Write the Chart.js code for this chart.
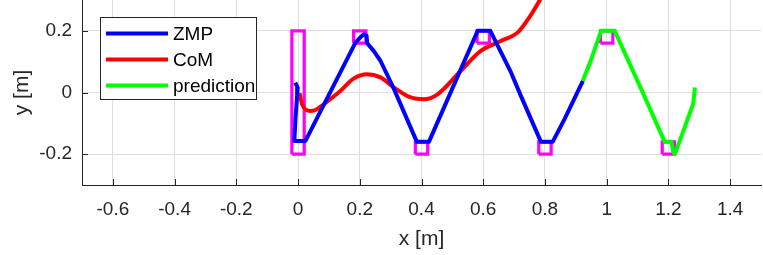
<!DOCTYPE html>
<html><head><meta charset="utf-8">
<script src="https://cdn.jsdelivr.net/npm/chart.js@4"></script>
<style>html,body{margin:0;padding:0;background:#fff}#wrap{width:763px;height:255px;position:relative}canvas{display:block}</style>
</head><body><div id="wrap"><canvas id="c" width="763" height="255" style="width:763px;height:255px"></canvas></div>
<script>
const xTicks = [-0.6,-0.4,-0.2,0,0.2,0.4,0.6,0.8,1,1.2,1.4];
const yTicks = [-0.2,0,0.2];

const zmpX = [-0.009,-0.001,-0.003,-0.008,-0.012,0.024,0.186,0.205,0.213,0.222,0.224,0.245,0.267,0.311,0.385,0.424,0.582,0.623,0.69,0.722,0.787,0.825,0.863,0.923];
const zmpY = [0.032,0.016,-0.011,-0.08,-0.157,-0.157,0.162,0.182,0.189,0.184,0.16,0.135,0.103,0.011,-0.16,-0.16,0.2,0.2,0.065,-0.011,-0.16,-0.16,-0.087,0.038];

const comX = [0.005,0.013,0.025,0.04,0.06,0.083,0.137,0.18,0.224,0.267,0.311,0.365,0.408,0.452,0.527,0.592,0.657,0.712,0.749,0.782,0.795];
const comY = [-0.002,-0.038,-0.055,-0.06,-0.055,-0.038,0.005,0.045,0.059,0.049,0.016,-0.016,-0.022,-0.006,0.07,0.135,0.167,0.195,0.243,0.297,0.32];

const predX = [0.923,0.95,0.982,1.026,1.112,1.188,1.21,1.215,1.221,1.28,1.286];
const predY = [0.038,0.108,0.2,0.2,0.011,-0.16,-0.16,-0.19,-0.2,-0.038,0.016];

const footXMin = [-0.02,0.18,0.38,0.58,0.78,0.98,1.18];
const footXMax = [0.02,0.22,0.42,0.62,0.82,1.02,1.22];
const footYMin = [-0.2,0.16,-0.2,0.16,-0.2,0.16,-0.2];
const footYMax = [0.2,0.2,-0.16,0.2,-0.16,0.2,-0.16];

const pts = (xs, ys) => xs.map((x, i) => ({x, y: ys[i]}));
const footPts = [];
footXMin.forEach((x0, i) => {
  const x1 = footXMax[i], y0 = footYMin[i], y1 = footYMax[i];
  footPts.push({x:x0,y:y0},{x:x1,y:y0},{x:x1,y:y1},{x:x0,y:y1},{x:x0,y:y0},{x:x0,y:null});
});

const FONT = '"Liberation Sans", Arial, Helvetica, sans-serif';
const AX = '#262626';

const inwardTicks = {
  id: 'inwardTicks',
  beforeDatasetsDraw(chart) {
    const {ctx, chartArea: a, scales: {x, y}} = chart;
    ctx.save();
    ctx.strokeStyle = AX; ctx.lineWidth = 1;
    ctx.beginPath();
    xTicks.forEach(v => { const p = Math.round(x.getPixelForValue(v)) + 0.5; ctx.moveTo(p, a.bottom); ctx.lineTo(p, a.bottom - 6); });
    yTicks.forEach(v => { const p = Math.round(y.getPixelForValue(v)) + 0.5; ctx.moveTo(a.left, p); ctx.lineTo(a.left + 6, p); });
    ctx.stroke();
    ctx.restore();
  }
};

const legendBox = {
  id: 'legendBox',
  afterDraw(chart) {
    const ctx = chart.ctx;
    const items = chart.data.datasets.filter(d => d.inLegend);
    ctx.save();
    ctx.fillStyle = '#fff';
    ctx.fillRect(100, 17, 157, 83);
    ctx.strokeStyle = AX; ctx.lineWidth = 1;
    ctx.strokeRect(100.5, 17.5, 156, 82);
    ctx.font = '19px ' + FONT;
    ctx.textBaseline = 'middle';
    ctx.fillStyle = '#000';
    items.forEach((d, i) => {
      const yy = 33.5 + i * 26;
      ctx.strokeStyle = d.borderColor; ctx.lineWidth = 4;
      ctx.beginPath(); ctx.moveTo(106, yy); ctx.lineTo(168, yy); ctx.stroke();
      ctx.fillText(d.label, 173, yy + 1);
    });
    ctx.restore();
  }
};

new Chart(document.getElementById('c'), {
  type: 'scatter',
  data: {
    datasets: [
      {label:'ZMP', inLegend:true, data: pts(zmpX, zmpY), borderColor:'#0000ff', order:1},
      {label:'CoM', inLegend:true, data: pts(comX, comY), borderColor:'#ff0000', order:2, cubicInterpolationMode:'monotone'},
      {label:'prediction', inLegend:true, data: pts(predX, predY), borderColor:'#00ff00', order:0},
      {label:'foot', inLegend:false, data: footPts, borderColor:'#ff00ff', order:3, borderWidth:3.2, spanGaps:false, borderJoinStyle:'miter'}
    ]
  },
  options: {
    responsive: false,
    animation: false,
    devicePixelRatio: 1,
    layout: {padding: {left: 0, right: 2, top: 0, bottom: 0}},
    datasets: {scatter: {showLine: true, pointRadius: 0, borderWidth: 4, borderJoinStyle: 'round', fill: false}},
    plugins: {legend: {display: false}, tooltip: {enabled: false}},
    scales: {
      x: {
        type: 'linear', min: -0.7, max: 1.5,
        afterBuildTicks: s => { s.ticks = xTicks.map(v => ({value: v})); },
        afterFit: s => { s.height = 70; s.paddingLeft = 0; s.paddingRight = 0; },
        grid: {color: '#dedede', drawTicks: false},
        border: {display: true, color: AX, width: 1},
        ticks: {color: AX, font: {family: FONT, size: 19}, padding: 13, maxRotation: 0, autoSkip: false,
          callback: v => String(Math.round(v * 10) / 10)},
        title: {display: true, text: 'x [m]', color: AX, font: {family: FONT, size: 21}, padding: {top: 0, bottom: 3}}
      },
      y: {
        type: 'linear', min: -0.3, max: 0.3,
        afterBuildTicks: s => { s.ticks = yTicks.map(v => ({value: v})); },
        afterFit: s => { s.width = 82; s.paddingTop = 0; s.paddingBottom = 0; },
        grid: {color: '#dedede', drawTicks: false},
        border: {display: true, color: AX, width: 1},
        ticks: {color: AX, font: {family: FONT, size: 19}, padding: 10, autoSkip: false,
          callback: v => String(Math.round(v * 10) / 10)},
        title: {display: true, text: 'y [m]', color: AX, font: {family: FONT, size: 21}, padding: {top: 10, bottom: 0}}
      }
    }
  },
  plugins: [inwardTicks, legendBox]
});
</script></body></html>
